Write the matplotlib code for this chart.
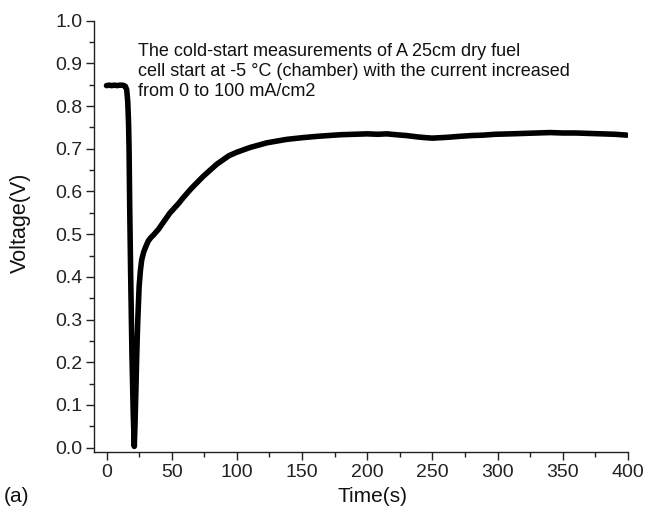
import matplotlib
matplotlib.use("Agg")
import matplotlib.pyplot as plt
from matplotlib.ticker import MultipleLocator

plt.rcParams['font.family'] = ['Liberation Sans', 'DejaVu Sans']

# Cell voltage during the cold-start run
time_s = [0, 2, 4, 6, 8, 10, 12, 13.5, 14.5, 15.5, 16.3, 16.9, 17.3, 17.8, 18.5,
          19.5, 20.5, 21.3, 21.8, 22.5, 23.2, 24, 25, 26, 27, 28.5, 30, 32, 34,
          36, 40, 43.6, 48.7, 55, 59, 65, 74, 84.6, 94, 100, 110, 123, 138,
          150, 161, 170, 180, 190, 200, 208, 215, 222, 230, 238, 245, 250, 256,
          262, 270, 280, 289, 298, 310, 320, 330, 340, 350, 360, 370, 380, 390,
          399]
voltage_v = [0.848, 0.849, 0.848, 0.849, 0.848, 0.849, 0.849, 0.848, 0.846, 0.838,
             0.81, 0.76, 0.70, 0.56, 0.41, 0.22, 0.08, 0.003, 0.05, 0.13, 0.22,
             0.30, 0.377, 0.415, 0.44, 0.458, 0.47, 0.484, 0.492, 0.498, 0.512,
             0.528, 0.55, 0.571, 0.586, 0.607, 0.635, 0.664, 0.684, 0.692, 0.703,
             0.714, 0.722, 0.726, 0.729, 0.731, 0.733, 0.734, 0.735, 0.734,
             0.735, 0.733, 0.731, 0.728, 0.726, 0.725, 0.726, 0.727, 0.729,
             0.731, 0.732, 0.734, 0.735, 0.736, 0.737, 0.738, 0.737, 0.737,
             0.736, 0.735, 0.734, 0.732]

x_ticks = [0, 50, 100, 150, 200, 250, 300, 350, 400]
y_ticks = [0.0, 0.1, 0.2, 0.3, 0.4, 0.5, 0.6, 0.7, 0.8, 0.9, 1.0]

note = ("The cold-start measurements of A 25cm dry fuel\n"
        "cell start at -5 \u00b0C (chamber) with the current increased\n"
        "from 0 to 100 mA/cm2")

W, H = 645, 513
fig = plt.figure(figsize=(W / 100, H / 100), dpi=100)
ax = fig.add_axes([94 / W, 1 - 451.7 / H, 534 / W, 431 / H])

ax.plot(time_s, voltage_v, color='black', lw=4.0, solid_joinstyle='round',
        solid_capstyle='round')

ax.set_xlim(-9.6, 400)
ax.set_ylim(-0.0094, 1.0)
ax.set_xticks(x_ticks)
ax.set_yticks(y_ticks)
ax.set_yticklabels([f"{v:.1f}" for v in y_ticks])
ax.xaxis.set_minor_locator(MultipleLocator(25))
ax.yaxis.set_minor_locator(MultipleLocator(0.05))

for s in ('top', 'right'):
    ax.spines[s].set_visible(False)
for s in ('left', 'bottom'):
    ax.spines[s].set_linewidth(1.0)
    ax.spines[s].set_color('#222222')

ax.tick_params(which='major', direction='out', length=6, width=1.0,
               labelsize=14, colors='#222222', pad=2.5)
ax.tick_params(which='minor', direction='out', length=3.5, width=1.0,
               colors='#222222')

fig.text(138 / W, 1 - 43 / H, note, fontsize=13, va='top', ha='left',
         linespacing=1.25, color='#111111')

fig.text(20.5 / W, 1 - 222.5 / H, "Voltage(V)", rotation=90, fontsize=15.5,
         ha='center', va='center', color='#111111')
fig.text(372 / W, 1 - 497 / H, "Time(s)", fontsize=15,
         ha='center', va='center', color='#111111')
fig.text(4 / W, 1 - 497 / H, "(a)", fontsize=15,
         ha='left', va='center', color='#111111')

fig.savefig("out.png", dpi=100)
